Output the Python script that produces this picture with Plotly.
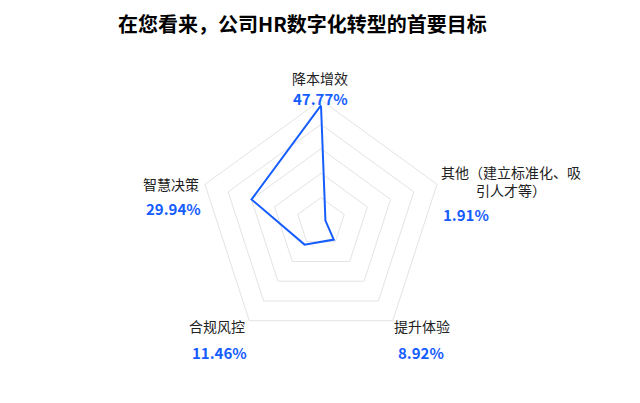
import plotly.graph_objects as go

categories = ["降本增效", "其他（建立标准化、吸引人才等）", "提升体验", "合规风控", "智慧决策"]
values = [47.77, 1.91, 8.92, 11.46, 29.94]
label_lines = ["降本增效", "其他（建立标准化、吸<br>引人才等）", "提升体验", "合规风控", "智慧决策"]
title_text = "在您看来，公司HR数字化转型的首要目标"

W, H = 640, 403
OFF = 8  # page body margin compensation
BLUE = "#165DFF"
FONT = "Noto Sans CJK SC"

fig = go.Figure()
fig.add_trace(go.Scatterpolar(
    r=values + values[:1],
    theta=categories + categories[:1],
    mode="lines",
    line=dict(color=BLUE, width=2),
    hoverinfo="skip",
    showlegend=False,
))

# label positions in pixels (name center x, name y, value x, value y, value anchor)
label_pos = [
    (320, 78, 320, 98, "center"),
    (511, 181, 442, 215, "left"),
    (422, 326, 421, 352, "center"),
    (217, 326, 219, 352, "center"),
    (171, 184, 173, 209, "center"),
]


def px(x):
    return (x - OFF) / W


def py(y):
    return 1 - (y - OFF) / H


annotations = []
for name, val, (nx, ny, vx, vy, va) in zip(label_lines, values, label_pos):
    annotations.append(dict(
        x=px(nx), y=py(ny), xref="paper", yref="paper",
        text=name, showarrow=False, xanchor="center", yanchor="middle",
        font=dict(family=FONT, size=14, color="#222222"), align="center",
        borderpad=0,
    ))
    annotations.append(dict(
        x=px(vx), y=py(vy), xref="paper", yref="paper",
        text=f"<b>{val:.2f}%</b>", showarrow=False, xanchor=va, yanchor="middle",
        font=dict(family=FONT, size=15, color=BLUE), borderpad=0,
    ))

annotations.append(dict(
    x=px(302), y=py(23), xref="paper", yref="paper",
    text=f"<b>{title_text}</b>", showarrow=False, xanchor="center", yanchor="middle",
    font=dict(family=FONT, size=20, color="#000000"), borderpad=0,
))

cx, cy, R = 321, 222, 122
fig.update_layout(
    width=W, height=H,
    margin=dict(l=0, r=0, t=0, b=0),
    paper_bgcolor="white",
    plot_bgcolor="white",
    polar=dict(
        domain=dict(x=[(cx - OFF - R) / W, (cx - OFF + R) / W],
                    y=[1 - (cy - OFF + R) / H, 1 - (cy - OFF - R) / H]),
        bgcolor="white",
        gridshape="linear",
        radialaxis=dict(range=[0, 50], dtick=10, showticklabels=False, ticks="",
                        showline=False, gridcolor="#e3e3e3", gridwidth=1),
        angularaxis=dict(direction="clockwise", rotation=90, showgrid=False,
                         showticklabels=False, ticks="", showline=True,
                         linecolor="#e3e3e3", linewidth=1),
    ),
    annotations=annotations,
)

fig.write_html("out.html")
